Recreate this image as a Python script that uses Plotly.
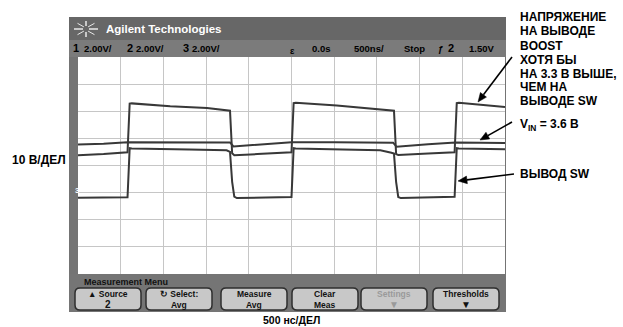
import math
import plotly.graph_objects as go

# ---------------- data (time in µs, amplitude in screen divisions) ----------------
boost_t = [-2.50, -2.20, -1.92, -1.895, -1.87, -1.42, -0.99, -0.80, -0.72, -0.695, -0.67,
           -0.40, 0.00, 0.025, 0.05, 0.53, 1.04, 1.17, 1.20, 1.225, 1.25, 1.60, 1.91, 1.935, 1.96, 2.50]
boost_v = [0.38, 0.42, 0.49, 2.28, 2.29, 2.18, 2.12, 2.04, 2.02, 0.45, 0.38,
           0.42, 0.49, 2.30, 2.31, 2.21, 2.08, 2.03, 2.02, 0.42, 0.39, 0.44, 0.49, 2.30, 2.31, 2.16]

vin_t = [-2.50, -2.20, -1.92, -1.50, -0.72, -0.68, -0.60, -0.30, 0.00, 0.50, 1.19, 1.23, 1.30, 1.60, 1.92, 2.50]
vin_v = [0.77, 0.80, 0.86, 0.86, 0.85, 0.70, 0.72, 0.78, 0.86, 0.86, 0.84, 0.69, 0.71, 0.78, 0.85, 0.83]

sw_t = [-2.50, -1.92, -1.895, -1.87, -1.20, -0.76, -0.72, -0.695, -0.67, -0.64, -0.30, 0.00,
        0.025, 0.05, 0.60, 1.04, 1.17, 1.20, 1.225, 1.25, 1.28, 1.60, 1.91, 1.935, 1.96, 2.50]
sw_v = [-1.19, -1.17, 0.64, 0.63, 0.59, 0.56, 0.50, -0.60, -1.15, -1.20, -1.18, -1.16,
        0.64, 0.63, 0.59, 0.56, 0.47, 0.44, -0.60, -1.16, -1.20, -1.17, -1.15, 0.64, 0.63, 0.60]

status_left = ["1", "2.00V/", "2", "2.00V/", "3", "2.00V/"]
status_right = ["0.0s", "500ns/", "Stop", "ƒ", "2", "1.50V"]
buttons = [("▲ Source", "2"), ("↻ Select:", "Avg"), ("Measure", "Avg"),
           ("Clear", "Meas"), ("Settings", "▼"), ("Thresholds", "▼")]
notes_boost = ["НАПРЯЖЕНИЕ", "НА ВЫВОДЕ", "BOOST", "ХОТЯ БЫ", "НА 3.3 В ВЫШЕ,", "ЧЕМ НА", "ВЫВОДЕ SW"]

# ---------------- geometry helpers ----------------
W, H = 623, 327
def X(px): return px / W
def Y(py): return 1 - py / H

GL, GR, GT, GB = 78, 505, 57, 274     # graticule
FL, FR, FT, FB = 69, 506, 17, 312     # scope frame
FONT = "Liberation Sans, Arial, sans-serif"

fig = go.Figure()
for t, v in [(boost_t, boost_v), (vin_t, vin_v), (sw_t, sw_v)]:
    fig.add_trace(go.Scatter(x=t, y=v, mode="lines", hoverinfo="skip", showlegend=False,
                             line=dict(color="#383838", width=2)))

shapes = []
def rect(x0, y0, x1, y1, fill):
    shapes.append(dict(type="rect", xref="paper", yref="paper", x0=X(x0), x1=X(x1), y0=Y(y1), y1=Y(y0),
                       fillcolor=fill, line=dict(color=fill, width=0), layer="above"))

# frame bands
rect(FL, FT, FR, 40, "#676767")
rect(FL, 40, FR, GT, "#7b7b7b")
rect(FL, GT, GL, GB, "#747474")
rect(GR, GT, FR, GB, "#747474")
rect(FL, GB, FR, FB, "#757575")

# centre dotted axes
shapes.append(dict(type="line", xref="x", yref="y", x0=-2.5, x1=2.5, y0=0, y1=0,
                   line=dict(color="#a8a8a8", width=1, dash="dot"), layer="below"))
shapes.append(dict(type="line", xref="x", yref="y", x0=0, x1=0, y0=-4, y1=4,
                   line=dict(color="#a8a8a8", width=1, dash="dot"), layer="below"))

# logo rays
cx, cy = 86, 29
for k in range(8):
    a = k * math.pi / 4
    shapes.append(dict(type="line", xref="paper", yref="paper",
                       x0=X(cx + 3 * math.cos(a)), y0=Y(cy + 3 * math.sin(a)),
                       x1=X(cx + 12 * math.cos(a)), y1=Y(cy + 8 * math.sin(a)),
                       line=dict(color="#e8e8e8", width=1.5 if k % 2 == 0 else 1), layer="above"))

# buttons
def rrect(x0, y0, x1, y1, r, fill, line):
    rx, ry = r / W, r / H
    a0, a1, b0, b1 = X(x0), X(x1), Y(y1), Y(y0)
    p = (f"M{a0+rx},{b0} L{a1-rx},{b0} Q{a1},{b0} {a1},{b0+ry} L{a1},{b1-ry} Q{a1},{b1} {a1-rx},{b1} "
         f"L{a0+rx},{b1} Q{a0},{b1} {a0},{b1-ry} L{a0},{b0+ry} Q{a0},{b0} {a0+rx},{b0} Z")
    shapes.append(dict(type="path", xref="paper", yref="paper", path=p, fillcolor=fill,
                       line=dict(color=line, width=1.5), layer="above"))

centers = [108, 179, 254, 325, 394, 466]
anns = []
def txt(x, y, s, size, color="black", anchor="left", bold=True):
    anns.append(dict(xref="paper", yref="paper", x=X(x), y=Y(y), text=(f"<b>{s}</b>" if bold else s),
                     showarrow=False, xanchor=anchor, yanchor="middle",
                     font=dict(family=FONT, size=size, color=color)))

for (l1, l2), c in zip(buttons, centers):
    rrect(c - 33, 288, c + 33, 310, 5, "#c8c8c8", "#2e2e2e")
    col = "#9a9a9a" if l1 == "Settings" else "#111111"
    txt(c, 293.5, l1, 8.5, col, "center")
    txt(c, 304.5, l2, 10 if l2 in ("2", "▼") else 8.5, col, "center")

# header texts
txt(104, 29, "Agilent Technologies", 11.5, "white")
xs_left = [71, 82, 125, 134, 181, 190]
for s, x in zip(status_left, xs_left):
    txt(x, 48.5, s, 11 if len(s) == 1 else 9.5, "black")
txt(288, 51, "ɛ", 9, "black")
xs_right = [310, 352, 402, 436, 446, 467]
for s, x in zip(status_right, xs_right):
    txt(x, 48.5, s, 11 if s == "2" else 9.5, "black")
txt(82, 281.5, "Measurement Menu", 9, "#111111")
txt(73, 190, "3", 8, "white")

# outer annotations
ys = [16.7, 31.0, 45.5, 59.5, 73.5, 87.3, 101.0]
for s, y in zip(notes_boost, ys):
    txt(518, y, s, 12)
txt(518, 125, "V<sub>IN</sub> = 3.6 В", 12)
txt(518, 174, "ВЫВОД SW", 12)
txt(10, 160, "10 В/ДЕЛ", 12)
txt(291, 320, "500 нс/ДЕЛ", 10.5, anchor="center")

# arrows (line + filled head)
for hx, hy, tx, ty in [(478, 102, 512, 57), (480, 140, 512, 122), (458, 181, 514, 174)]:
    dx, dy = hx - tx, hy - ty
    L = math.hypot(dx, dy)
    ux, uy = dx / L, dy / L
    bx, by = hx - 9 * ux, hy - 9 * uy
    shapes.append(dict(type="line", xref="paper", yref="paper", x0=X(tx), y0=Y(ty), x1=X(bx), y1=Y(by),
                       line=dict(color="black", width=1.6), layer="above"))
    p1 = (bx + 3.8 * uy, by - 3.8 * ux)
    p2 = (bx - 3.8 * uy, by + 3.8 * ux)
    path = f"M{X(hx)},{Y(hy)} L{X(p1[0])},{Y(p1[1])} L{X(p2[0])},{Y(p2[1])} Z"
    shapes.append(dict(type="path", xref="paper", yref="paper", path=path, fillcolor="black",
                       line=dict(color="black", width=0.5), layer="above"))

fig.update_layout(
    width=W, height=H, margin=dict(l=0, r=0, t=0, b=0),
    paper_bgcolor="white", plot_bgcolor="white",
    shapes=shapes, annotations=anns,
    xaxis=dict(domain=[X(GL), X(GR)], range=[-2.5, 2.5], tick0=-2.5, dtick=0.5,
               showgrid=True, gridcolor="#c6c6c6", gridwidth=1, zeroline=False,
               showticklabels=False, ticks="", showline=True, mirror=True, linecolor="#c6c6c6"),
    yaxis=dict(domain=[Y(GB), Y(GT)], range=[-4, 4], tick0=-4, dtick=1,
               showgrid=True, gridcolor="#c6c6c6", gridwidth=1, zeroline=False,
               showticklabels=False, ticks="", showline=True, mirror=True, linecolor="#c6c6c6"),
)
fig.write_html("out.html", config={"displayModeBar": False},
               post_script="document.body.style.margin='0';")
